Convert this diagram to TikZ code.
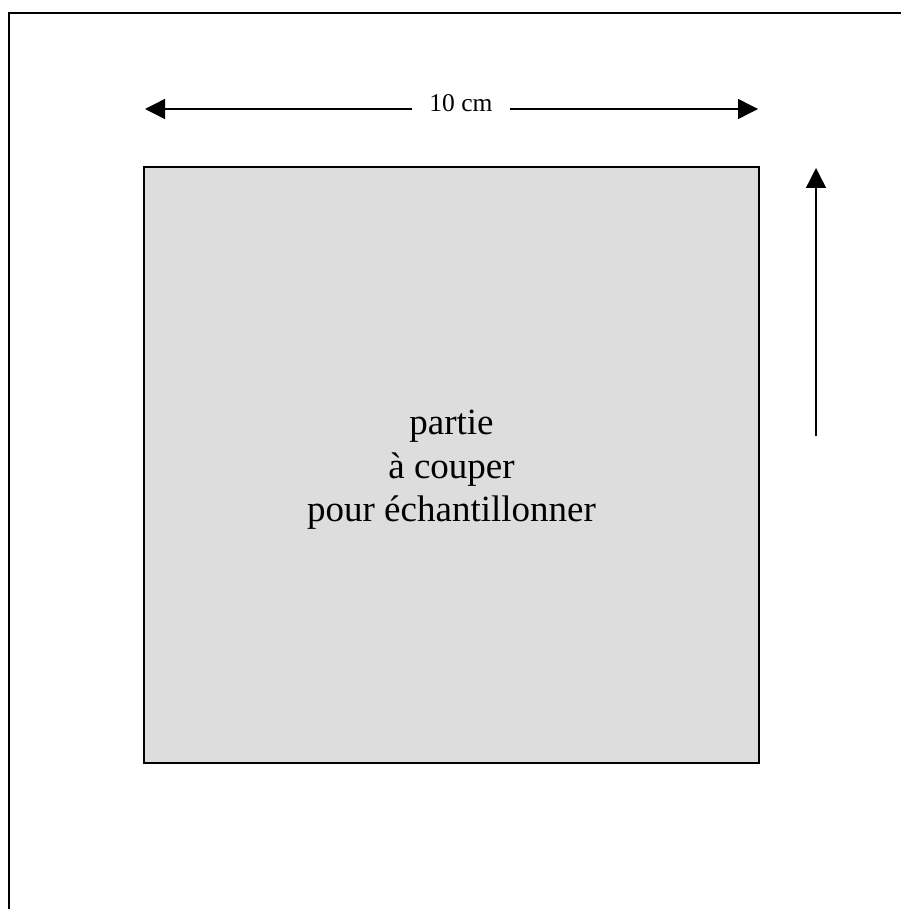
\documentclass[tikz,border=0pt]{standalone}
\usepackage{fontspec}
\setmainfont{Liberation Serif}
\usetikzlibrary{arrows.meta}
\definecolor{cutgray}{HTML}{DDDDDD}

\begin{document}
\begin{tikzpicture}[x=1pt, y=-1pt, cut zone/.style={draw, line width=1.6pt, fill=cutgray, minimum width=615pt, minimum height=596pt, inner sep=0pt}, dim arrow/.style={line width=1.4pt, -{Triangle[length=20pt, width=20pt]}}, page frame/.style={line width=2pt}]
  \useasboundingbox (0,0) rectangle (900,909);

  \node[cut zone] (zone) at (451.5,465) {};
  \node[align=center, font=\fontsize{37}{43.5}\selectfont] (zonetext) at (451.5,470) {partie\\à couper\\pour échantillonner};
  \node[font=\fontsize{25.5}{30}\selectfont, inner xsep=17pt, anchor=base] (width) at (461,112) {10 cm};
  \coordinate (wl) at (145,109);
  \coordinate (wr) at (758,109);
  \coordinate (hb) at (816,436);
  \coordinate (ht) at (816,168);
  \coordinate (fb) at (9,920);
  \coordinate (fc) at (9,13);
  \coordinate (fr) at (910,13);
 \draw[page frame] (fb) -- (fc) -- (fr);
 \draw[dim arrow] (width.west |- wl) -- (wl);
 \draw[dim arrow] (width.east |- wr) -- (wr);
 \draw[dim arrow] (hb) -- (ht);
\end{tikzpicture}
\end{document}
